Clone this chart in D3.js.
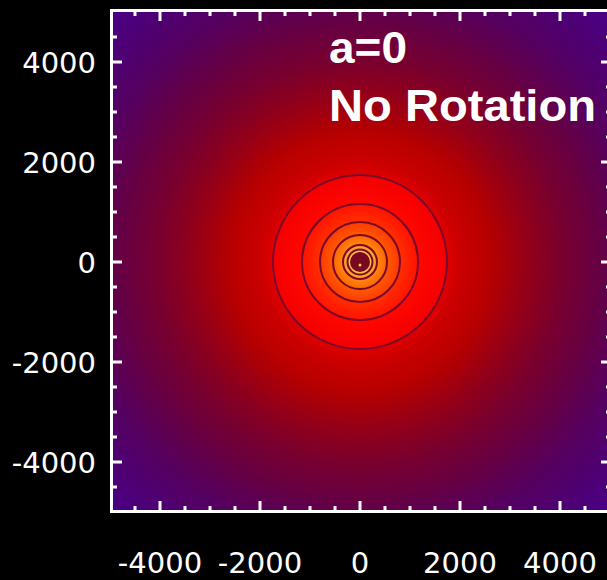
<!DOCTYPE html>
<html lang="en">
<head>
<meta charset="UTF-8">
<title>a=0 No Rotation</title>
<script src="https://d3js.org/d3.v7.min.js"></script>
<style>
    body { margin: 0; background: #000; }
    .tick-label { font-family: "DejaVu Sans", sans-serif; font-size: 29px; fill: #fff; }
    .title { font-family: "Liberation Sans", Arial, sans-serif; font-weight: bold; font-size: 44px; fill: #fff; }
</style>
</head>
<body>
<svg id="chart" width="607" height="580"></svg>
<script>
// axis ticks
const xTicks = [-4000, -2000, 0, 2000, 4000];
const yTicks = [-4000, -2000, 0, 2000, 4000];
const minorTicks = [-4500, -3500, -3000, -2500, -1500, -1000, -500, 500, 1000, 1500, 2500, 3000, 3500, 4500];

// radial profile of the map: radius -> colour
const profileRadius = [0, 240, 250, 340, 350, 540, 550, 800, 810, 1160, 1170, 1740, 1760,
                       2000, 2600, 3100, 3600, 4100, 4800, 5600, 6400, 7100];
const profileColor  = ["#ffe070", "#ffc040", "#ffb030", "#ff9a20", "#ff8a14", "#ff6a00", "#ff5c00",
                       "#ff3c00", "#ff3000", "#ff1400", "#ff0800", "#f40000", "#e00000",
                       "#cc0000", "#b80000", "#a00010", "#8a0020", "#780030", "#660044", "#560060",
                       "#4e0074", "#4a0088"];

// contour levels (radius of each ring)
const contourLevels = [1740, 1160, 800, 540, 340, 250];
const coreRadius = 200;

const svg = d3.select("#chart");
const x = d3.scaleLinear().domain([-5000, 5000]).range([110, 610]);
const y = d3.scaleLinear().domain([-5000, 5000]).range([512, 12]);
const k = (x(1000) - x(0)) / 1000;   // px per unit

const color = d3.scaleLinear().domain(profileRadius).range(profileColor).clamp(true);

svg.append("clipPath").attr("id", "plot-clip")
    .append("rect").attr("x", 110).attr("y", 12).attr("width", 500).attr("height", 500);

const plot = svg.append("g").attr("clip-path", "url(#plot-clip)");

// filled map drawn as concentric discs, outermost first
const bands = d3.range(7100, 0, -40);
plot.selectAll("circle.band")
    .data(bands)
    .enter()
    .append("circle")
    .attr("class", "band")
    .attr("cx", x(0))
    .attr("cy", y(0))
    .attr("r", d => d * k)
    .attr("fill", d => color(d));

// contours
plot.selectAll("circle.contour")
    .data(contourLevels)
    .enter()
    .append("circle")
    .attr("class", "contour")
    .attr("cx", x(0))
    .attr("cy", y(0))
    .attr("r", d => d * k)
    .attr("fill", "none")
    .attr("stroke", "#7a0a2c")
    .attr("stroke-width", 2);

plot.append("circle")
    .attr("cx", x(0)).attr("cy", y(0))
    .attr("r", coreRadius * k)
    .attr("fill", "#780822");
plot.append("circle")
    .attr("cx", x(0)).attr("cy", y(-60))
    .attr("r", 1.5)
    .attr("fill", "#ffd040");

// frame
svg.append("rect")
    .attr("x", 111.5).attr("y", 10.5)
    .attr("width", 500).attr("height", 501)
    .attr("fill", "none").attr("stroke", "#fff").attr("stroke-width", 3);

// ticks, pointing inward on all four sides
const ticks = svg.append("g").attr("stroke", "#fff").attr("stroke-width", 3);
const allX = xTicks.map(v => ({v, len: 10})).concat(minorTicks.map(v => ({v, len: 5})));
const allY = yTicks.map(v => ({v, len: 10})).concat(minorTicks.map(v => ({v, len: 5})));

ticks.selectAll("line.xb").data(allX).enter().append("line")
    .attr("x1", d => x(d.v)).attr("x2", d => x(d.v))
    .attr("y1", 511).attr("y2", d => 511 - d.len);
ticks.selectAll("line.xt").data(allX).enter().append("line")
    .attr("x1", d => x(d.v)).attr("x2", d => x(d.v))
    .attr("y1", 11).attr("y2", d => 11 + d.len);
ticks.selectAll("line.yl").data(allY).enter().append("line")
    .attr("y1", d => y(d.v)).attr("y2", d => y(d.v))
    .attr("x1", 112).attr("x2", d => 112 + d.len);
ticks.selectAll("line.yr").data(allY).enter().append("line")
    .attr("y1", d => y(d.v)).attr("y2", d => y(d.v))
    .attr("x1", 611).attr("x2", d => 611 - d.len);

// tick labels
svg.selectAll("text.xl").data(xTicks).enter().append("text")
    .attr("class", "tick-label")
    .attr("x", d => x(d))
    .attr("y", 573)
    .attr("text-anchor", "middle")
    .text(d => d);

svg.selectAll("text.yl").data(yTicks).enter().append("text")
    .attr("class", "tick-label")
    .attr("x", 96)
    .attr("y", d => y(d) + 11)
    .attr("text-anchor", "end")
    .text(d => d);

// annotation
svg.append("text").attr("class", "title")
    .attr("x", 329).attr("y", 63)
    .attr("textLength", 78).attr("lengthAdjust", "spacingAndGlyphs")
    .text("a=0");
svg.append("text").attr("class", "title")
    .attr("x", 329).attr("y", 121)
    .attr("textLength", 267).attr("lengthAdjust", "spacingAndGlyphs")
    .text("No Rotation");
</script>
</body>
</html>
